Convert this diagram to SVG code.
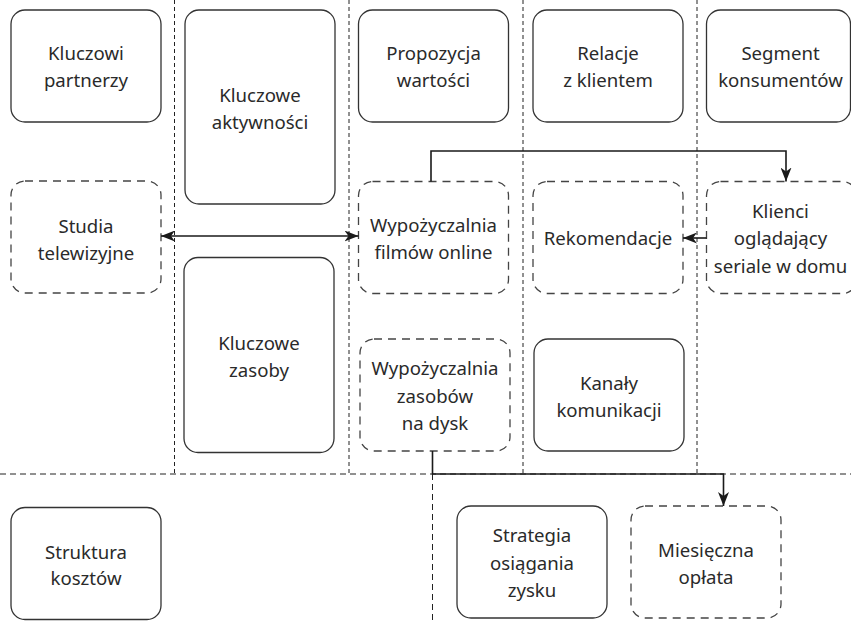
<svg xmlns="http://www.w3.org/2000/svg" width="851" height="624" viewBox="0 0 851 624">
  <style>
    .box { fill: #ffffff; stroke: #333333; stroke-width: 1.3; }
    .dbox { fill: #ffffff; stroke: #444444; stroke-width: 1.3; stroke-dasharray: 8 6; }
    .grid { fill: none; stroke: #222222; stroke-width: 1; stroke-dasharray: 4 3; }
    .gridh { fill: none; stroke: #222222; stroke-width: 1; stroke-dasharray: 6 4; }
    .link { fill: none; stroke: #1a1a1a; stroke-width: 1.6; }
    text { font-family: "Noto Sans", "Open Sans", sans-serif; font-size: 18.6px; fill: #2a2a2a; text-anchor: middle; }
  </style>
  <defs>
    <marker id="arrow" viewBox="0 0 15 11" refX="14" refY="5.5" markerWidth="15" markerHeight="11" markerUnits="userSpaceOnUse" orient="auto-start-reverse">
      <path d="M0,0 L14,5.5 L0,11 L4,5.5 Z" fill="#1a1a1a"/>
    </marker>
  </defs>

  <!-- canvas dividers -->
  <g id="dividers">
    <path class="grid" d="M174.5,0 V474 M349,0 V474 M523,0 V474 M697,0 V474"/>
    <path class="gridh" d="M0,474 H851 M432.5,474 V624"/>
  </g>

  <!-- top row: canvas sections -->
  <g id="kluczowi-partnerzy">
    <rect class="box" x="11" y="10" width="150" height="112" rx="14"/>
    <text x="86" y="60">Kluczowi</text>
    <text x="86" y="87">partnerzy</text>
  </g>
  <g id="kluczowe-aktywnosci">
    <rect class="box" x="185" y="10" width="150" height="194" rx="14"/>
    <text x="260" y="102">Kluczowe</text>
    <text x="260" y="129">aktywności</text>
  </g>
  <g id="propozycja-wartosci">
    <rect class="box" x="358.5" y="10" width="150" height="112" rx="14"/>
    <text x="433.5" y="60">Propozycja</text>
    <text x="433.5" y="87">wartości</text>
  </g>
  <g id="relacje-z-klientem">
    <rect class="box" x="533" y="10" width="150" height="112" rx="14"/>
    <text x="608" y="60">Relacje</text>
    <text x="608" y="87">z klientem</text>
  </g>
  <g id="segment-konsumentow">
    <rect class="box" x="706.5" y="10" width="144" height="112" rx="14"/>
    <text x="780.5" y="60">Segment</text>
    <text x="780.5" y="87">konsumentów</text>
  </g>

  <!-- middle row -->
  <g id="studia-telewizyjne">
    <rect class="dbox" x="11" y="181" width="150" height="112" rx="14"/>
    <text x="86" y="233">Studia</text>
    <text x="86" y="259.5">telewizyjne</text>
  </g>
  <g id="kluczowe-zasoby">
    <rect class="box" x="184" y="257.5" width="150" height="195" rx="14"/>
    <text x="259" y="349.5">Kluczowe</text>
    <text x="259" y="377">zasoby</text>
  </g>
  <g id="wypozyczalnia-online">
    <rect class="dbox" x="358.5" y="181.5" width="150" height="112" rx="14"/>
    <text x="433.5" y="232">Wypożyczalnia</text>
    <text x="433.5" y="258.5">filmów online</text>
  </g>
  <g id="rekomendacje">
    <rect class="dbox" x="533" y="181.5" width="150" height="112" rx="14"/>
    <text x="608" y="245">Rekomendacje</text>
  </g>
  <g id="klienci">
    <rect class="dbox" x="706.5" y="181.5" width="150" height="112" rx="14"/>
    <text x="780.5" y="218">Klienci</text>
    <text x="780.5" y="245">oglądający</text>
    <text x="780.5" y="272.5">seriale w domu</text>
  </g>
  <g id="wypozyczalnia-dysk">
    <rect class="dbox" x="360" y="339" width="150" height="112" rx="14"/>
    <text x="435" y="375">Wypożyczalnia</text>
    <text x="435" y="402.5">zasobów</text>
    <text x="435" y="430">na dysk</text>
  </g>
  <g id="kanaly-komunikacji">
    <rect class="box" x="534" y="339" width="150" height="112" rx="14"/>
    <text x="609" y="389.5">Kanały</text>
    <text x="609" y="417">komunikacji</text>
  </g>

  <!-- bottom row -->
  <g id="struktura-kosztow">
    <rect class="box" x="11" y="507.5" width="150" height="112" rx="14"/>
    <text x="86" y="558.5">Struktura</text>
    <text x="86" y="585">kosztów</text>
  </g>
  <g id="strategia-zysku">
    <rect class="box" x="457" y="506" width="150" height="112" rx="14"/>
    <text x="532" y="542">Strategia</text>
    <text x="532" y="569.5">osiągania</text>
    <text x="532" y="597">zysku</text>
  </g>
  <g id="miesieczna-oplata">
    <rect class="dbox" x="631" y="506" width="150" height="112" rx="14"/>
    <text x="706" y="557">Miesięczna</text>
    <text x="706" y="584">opłata</text>
  </g>

  <!-- connectors -->
  <g id="connectors">
    <path class="link" d="M161,236 H358.5" marker-start="url(#arrow)" marker-end="url(#arrow)"/>
    <path class="link" d="M431,181.5 V151 H786 V181.5" marker-end="url(#arrow)"/>
    <path class="link" d="M706.5,238 H683" marker-end="url(#arrow)"/>
    <path class="link" d="M432.5,451 V474 H723.5 V506" marker-end="url(#arrow)"/>
  </g>
</svg>
